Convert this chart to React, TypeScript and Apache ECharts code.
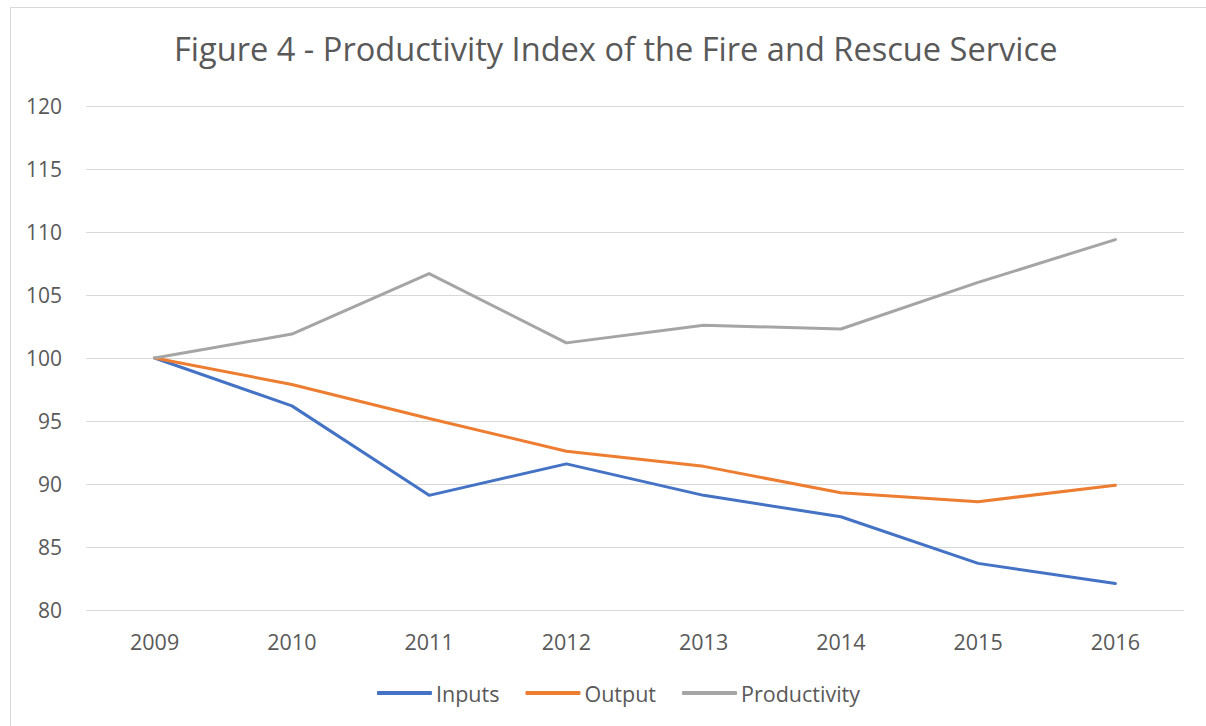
import React, { useEffect, useRef } from "react";
import * as echarts from "echarts";

const years = ["2009", "2010", "2011", "2012", "2013", "2014", "2015", "2016"];
const inputs = [100, 96.2, 89.1, 91.6, 89.1, 87.4, 83.7, 82.1];
const output = [100, 97.9, 95.2, 92.6, 91.4, 89.3, 88.6, 89.9];
const productivity = [100, 101.9, 106.7, 101.2, 102.6, 102.3, 106.0, 109.4];

const FONT = "'Open Sans', sans-serif";
const TEXT = "#595959";

export default function App() {
  const ref = useRef<HTMLDivElement>(null);
  useEffect(() => {
    if (!ref.current) return;
    const chart = echarts.init(ref.current, undefined, { renderer: "svg" });
    const mk = (name: string, data: number[], color: string) => ({
      name,
      type: "line",
      data,
      symbol: "none",
      lineStyle: { width: 3, color, cap: "round", join: "round" },
      itemStyle: { color },
    });
    chart.setOption({
      animation: false,
      backgroundColor: "#ffffff",
      textStyle: { fontFamily: FONT },
      title: {
        text: "Figure 4 - Productivity Index of the Fire and Rescue Service",
        left: 169,
        top: 27,
        textStyle: { fontFamily: FONT, fontSize: 32.6, fontWeight: "normal", color: TEXT },
      },
      legend: {
        bottom: 17,
        left: 372,
        itemWidth: 55,
        itemHeight: 4,
        itemGap: 26,
        icon: "roundRect",
        textStyle: { fontFamily: FONT, fontSize: 21.5, color: TEXT, padding: [0, 0, 0, -1] },
        data: ["Inputs", "Output", "Productivity"],
      },
      grid: { left: 86, right: 22, top: 106, bottom: 116, containLabel: false },
      xAxis: {
        type: "category",
        data: years,
        boundaryGap: true,
        axisLine: { show: false },
        axisTick: { show: false },
        axisLabel: { fontFamily: FONT, fontSize: 21.5, color: TEXT, margin: 20 },
      },
      yAxis: {
        type: "value",
        min: 80,
        max: 120,
        interval: 5,
        axisLine: { show: false },
        axisTick: { show: false },
        axisLabel: { fontFamily: FONT, fontSize: 21, color: TEXT, margin: 24 },
        splitLine: { lineStyle: { color: "#D9D9D9", width: 1 } },
      },
      graphic: [
        { type: "line", shape: { x1: 10, y1: 7.5, x2: 1206, y2: 7.5 }, style: { stroke: "#D9D9D9", lineWidth: 1 } },
        { type: "line", shape: { x1: 10.5, y1: 7, x2: 10.5, y2: 726 }, style: { stroke: "#D9D9D9", lineWidth: 1 } },
      ],
      series: [
        mk("Inputs", inputs, "#4472C4"),
        mk("Output", output, "#ED7D31"),
        mk("Productivity", productivity, "#A5A5A5"),
      ],
    });
    return () => chart.dispose();
  }, []);
  return (
    <div
      ref={ref}
      style={{ position: "absolute", left: 0, top: 0, width: 1206, height: 726 }}
    />
  );
}
